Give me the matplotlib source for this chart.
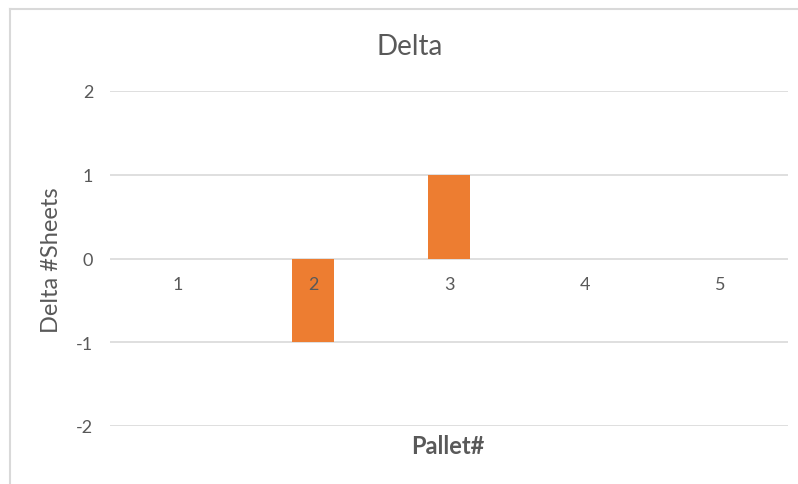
import matplotlib
matplotlib.use("Agg")
import matplotlib.pyplot as plt
from matplotlib.lines import Line2D

pallets = ["1", "2", "3", "4", "5"]
delta = [0, -1, 1, 0, 0]
yticks = [-2, -1, 0, 1, 2]

ORANGE = "#ED7D31"
GRID = "#D9D9D9"
TEXT = "#595959"

plt.rcParams["font.family"] = ["Lato", "DejaVu Sans"]

W, H = 798, 485
fig = plt.figure(figsize=(W / 100, H / 100), dpi=100)
ax = fig.add_axes([110 / W, 1 - 427 / H, 678 / W, 335 / H])

x = list(range(len(pallets)))
ax.bar(x, delta, width=0.31, color=ORANGE, zorder=3)
ax.set_xlim(-0.5, len(pallets) - 0.5)
ax.set_ylim(-2, 2)
ax.set_yticks(yticks)
ax.set_yticklabels([str(v) for v in yticks])
ax.yaxis.grid(True, color=GRID, linewidth=1.2, zorder=0)
ax.set_xticks([])
for s in ax.spines.values():
    s.set_visible(False)
ax.tick_params(axis="y", length=0, pad=12, labelsize=13, labelcolor=TEXT)

# category labels sit just under the zero line, Excel style
for i, p in enumerate(pallets):
    ax.text(i, -0.3, p, ha="center", va="center", fontsize=13, color=TEXT, zorder=4)

fig.text(410 / W, 1 - 47 / H, "Delta", ha="center", va="center", fontsize=20, color=TEXT)
fig.text(448 / W, 1 - 447 / H, "Pallet#", ha="center", va="center", fontsize=17,
         color=TEXT, fontweight="bold")
fig.text(52 / W, 1 - 260 / H, "Delta #Sheets", ha="center", va="center", fontsize=17,
         color=TEXT, rotation=90)

# chart frame edges (left and top visible)
fig.add_artist(Line2D([10 / W, 10 / W], [0, 1 - 10 / H], color=GRID, linewidth=1.5,
                      transform=fig.transFigure))
fig.add_artist(Line2D([10 / W, 1], [1 - 10 / H, 1 - 10 / H], color=GRID, linewidth=1.5,
                      transform=fig.transFigure))

fig.savefig("out.png", dpi=100)
